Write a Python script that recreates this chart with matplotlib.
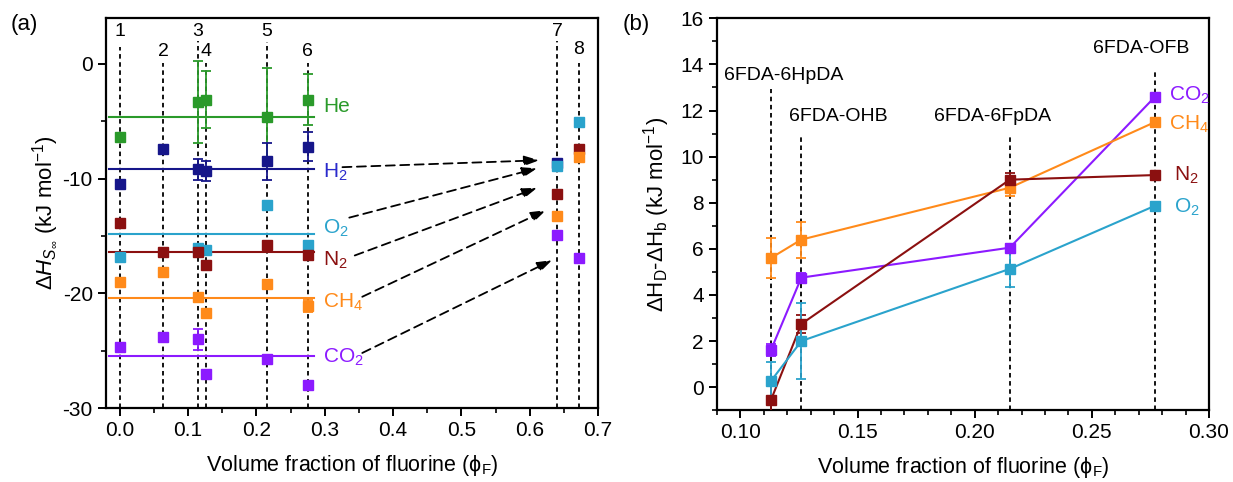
import numpy as np
import matplotlib
matplotlib.use('Agg')
import matplotlib.pyplot as plt

plt.rcParams['font.family'] = ['Liberation Sans', 'DejaVu Sans']
plt.rcParams['mathtext.fontset'] = 'custom'
plt.rcParams['mathtext.rm'] = 'Liberation Sans'
plt.rcParams['mathtext.it'] = 'Liberation Sans:italic'
plt.rcParams['axes.unicode_minus'] = False
plt.rcParams['font.size'] = 15

nan = np.nan

# ---- panel (a): sorption enthalpy per polymer ----
phi_a = [0.0, 0.064, 0.114, 0.127, 0.215, 0.275, 0.640, 0.672]
polymer_ids = ['1', '2', '3', '4', '5', '6', '7', '8']
id_tops = [1.5, 0.1, 2.0, 0.1, 1.9, 0.1, 2.0, 0.1]
id_label_y = [2.8, 1.05, 2.8, 1.05, 2.8, 1.05, 2.8, 1.3]

gases_a = ['He', 'H$_2$', 'O$_2$', 'N$_2$', 'CH$_4$', 'CO$_2$']
colors_a = ['#2a9a2a', '#16168a', '#2aa3cc', '#8b1010', '#ff8a1a', '#8c1aff']
text_colors_a = ['#2a9a2a', '#2a2acc', '#2aa3cc', '#8b1010', '#ff8a1a', '#8c1aff']

dHs = [
    [-6.4, nan, -3.3, -3.1, -4.6, -3.1, nan, nan],            # He
    [-10.5, -7.4, -9.2, -9.35, -8.5, -7.2, -8.6, nan],        # H2
    [-16.8, nan, -16.05, -16.2, -12.3, -15.8, -8.9, -5.1],    # O2
    [-13.9, -16.4, -16.4, -17.5, -15.8, -16.7, -11.35, -7.45],  # N2
    [-19.0, -18.1, -20.3, -21.7, -19.2, -21.1, -13.3, -8.1],  # CH4
    [-24.7, -23.8, -24.0, -27.0, -25.7, -28.0, -14.9, -16.9],  # CO2
]
dHs_err = [
    [0, 0, 3.6, 2.45, 4.25, 2.25, 0, 0],
    [0, 0, 0.95, 0.85, 1.6, 1.3, 0, 0],
    [0, 0, 0, 0, 0, 0, 0, 0],
    [0, 0, 0, 0, 0, 0, 0, 0],
    [0, 0, 0, 0, 0, 0.55, 0, 0],
    [0, 0, 0.9, 0, 0, 0, 0, 0],
]
mean_a = [-4.6, -9.2, -14.8, -16.4, -20.4, -25.5]
label_y_a = [-3.7, -9.45, -14.3, -17.1, -20.8, -25.6]

# dashed arrows pointing from the mean lines to polymers 7/8
arrow_start = [(0.326, -9.0), (0.336, -13.4), (0.344, -16.7), (0.355, -20.3), (0.355, -25.2)]
arrow_end = [(0.614, -8.4), (0.611, -9.1), (0.611, -10.8), (0.624, -12.75), (0.633, -17.1)]

# ---- panel (b): enthalpy difference ----
phi_b = [0.113, 0.126, 0.215, 0.277]
names_b = ['6FDA-6HpDA', '6FDA-OHB', '6FDA-6FpDA', '6FDA-OFB']
name_pos_b = [(0.1185, 13.5), (0.142, 11.75), (0.2077, 11.75), (0.271, 14.7)]
name_tops_b = [12.95, 10.9, 10.9, 13.8]

gases_b = ['CO$_2$', 'CH$_4$', 'N$_2$', 'O$_2$']
colors_b = ['#8c1aff', '#ff8a1a', '#8b1010', '#2aa3cc']
dHdb = [
    [1.6, 4.75, 6.05, 12.6],
    [5.6, 6.4, 8.65, 11.5],
    [-0.57, 2.74, 9.0, 9.2],
    [0.26, 2.0, 5.13, 7.87],
]
dHdb_err = [
    [0.25, 0.2, 0.15, 0.1],
    [0.85, 0.78, 0.35, 0.1],
    [0.75, 0.4, 0.3, 0.05],
    [0.85, 1.65, 0.78, 0.1],
]
label_pos_b = [(0.283, 12.65), (0.283, 11.4), (0.285, 9.2), (0.285, 7.8)]

fig = plt.figure(figsize=(12.33, 4.82), dpi=100)
ax1 = fig.add_axes([0.086, 0.1535, 0.399, 0.809])
ax2 = fig.add_axes([0.5815, 0.149, 0.399, 0.813])

dash = (0, (2.5, 2))

def style_axes(ax):
    for s in ax.spines.values():
        s.set_linewidth(1.6)
    ax.tick_params(which='major', direction='out', length=6, width=1.4, labelsize=15)
    ax.tick_params(which='minor', direction='out', length=3.5, width=1.2)

# panel (a)
for x, top, lab, ly in zip(phi_a, id_tops, polymer_ids, id_label_y):
    ax1.plot([x, x], [-30, top], color='black', lw=1.3, ls=dash, zorder=1)
    ax1.text(x, ly, lab, ha='center', va='center', fontsize=14)

for vals, errs, c, tc, m, name, ly in zip(dHs, dHs_err, colors_a, text_colors_a, mean_a, gases_a, label_y_a):
    ax1.plot([-0.015, 0.285], [m, m], color=c, lw=1.5, zorder=2)
    ax1.errorbar(phi_a, vals, yerr=errs, fmt='s', ms=6.5, color=c, ecolor=c,
                 elinewidth=1.3, capsize=3.5, capthick=1.3, zorder=3)
    ax1.text(0.298, ly, name, color=tc, ha='left', va='center', fontsize=15)

for (x0, y0), (x1, y1) in zip(arrow_start, arrow_end):
    ax1.annotate('', xy=(x1, y1), xytext=(x0, y0),
                 arrowprops=dict(arrowstyle='-|>,head_length=0.6,head_width=0.2',
                                 color='black', lw=1.3, ls=(0, (5, 3)),
                                 shrinkA=0, shrinkB=0))

ax1.set_xlim(-0.02, 0.7)
ax1.set_ylim(-30, 4)
ax1.set_xticks(np.arange(0, 0.71, 0.1))
ax1.set_xticks(np.arange(0.05, 0.7, 0.1), minor=True)
ax1.set_yticks([-30, -20, -10, 0])
ax1.set_yticks([-25, -15, -5], minor=True)
ax1.set_xticklabels(['0.0', '0.1', '0.2', '0.3', '0.4', '0.5', '0.6', '0.7'])
style_axes(ax1)
ax1.set_xlabel('Volume fraction of fluorine (ϕ$_\\mathregular{F}$)', fontsize=15.5, labelpad=9)
ax1.set_ylabel(r'$\Delta H_{S_\infty}$ (kJ mol$^{-1}$)', fontsize=16, labelpad=2)

# panel (b)
for x, top, (tx, ty), name in zip(phi_b, name_tops_b, name_pos_b, names_b):
    ax2.plot([x, x], [-1, top], color='black', lw=1.3, ls=dash, zorder=1)
    ax2.text(tx, ty, name, ha='center', va='center', fontsize=14)

for vals, errs, c, name, (lx, ly) in zip(dHdb, dHdb_err, colors_b, gases_b, label_pos_b):
    ax2.errorbar(phi_b, vals, yerr=errs, fmt='s-', ms=6.5, color=c, ecolor=c, lw=1.5,
                 elinewidth=1.3, capsize=3.5, capthick=1.3, zorder=3)
    ax2.text(lx, ly, name, color=c, ha='left', va='center', fontsize=15)

ax2.set_xlim(0.09, 0.30)
ax2.set_ylim(-1, 16)
ax2.set_xticks([0.10, 0.15, 0.20, 0.25, 0.30])
ax2.set_xticks(np.arange(0.09, 0.301, 0.01), minor=True)
ax2.set_yticks(np.arange(0, 17, 2))
ax2.set_yticks(np.arange(-1, 16, 2), minor=True)
ax2.set_xticklabels(['0.10', '0.15', '0.20', '0.25', '0.30'])
style_axes(ax2)
ax2.set_xlabel('Volume fraction of fluorine (ϕ$_\\mathregular{F}$)', fontsize=15.5, labelpad=9)
ax2.set_ylabel('ΔH$_\\mathregular{D}$-ΔH$_\\mathregular{b}$ (kJ mol$^{-1}$)', fontsize=16, labelpad=6)

fig.text(0.009, 0.938, '(a)', fontsize=16)
fig.text(0.505, 0.938, '(b)', fontsize=16)

fig.savefig('out.png', dpi=100)
